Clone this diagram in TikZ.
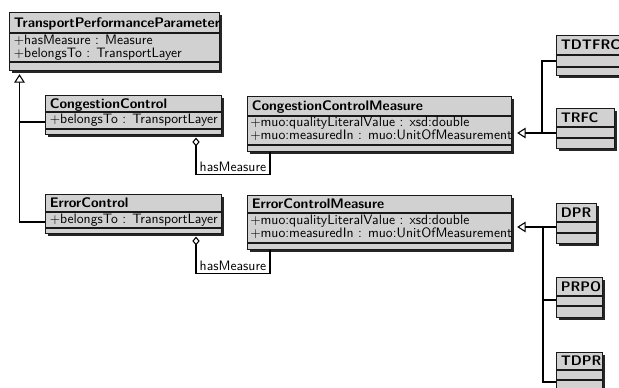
\documentclass[tikz,border=0pt]{standalone}
\usepackage{fontspec}
\usetikzlibrary{arrows.meta,shadows,calc}

% A UML class box: name, left, top, width, title height, attribute height,
% operation height, title text (all lengths in picture units)
\newcommand\umlclass[8]{%
  \node[classbox, anchor=north west,
        minimum width={#4*0.75pt},
        minimum height={(#5+#6+#7)*0.75pt}] (#1) at (#2,#3) {};
  \draw[classrule] (#2,{#3+#5}) -- ++(#4,0);
  \draw[classrule] (#2,{#3+#5+#6}) -- ++(#4,0);
  \node[classtitle] (#1-title) at ({#2+4.5},{#3+#5/2+4.7}) {#8};
}

\begin{document}
\begin{tikzpicture}[x=0.75pt,y=-0.75pt,
  font=\sffamily\fontsize{10.25}{12}\selectfont,
  classbox/.style={draw=black!90, line width=0.85pt, fill=black!18, inner sep=0pt,
    drop shadow={shadow xshift=2pt, shadow yshift=-2pt, fill=black, opacity=0.85}},
  classrule/.style={draw=black!90, line width=0.85pt},
  classtitle/.style={anchor=base west, inner sep=0pt,
    font=\sffamily\bfseries\fontsize{10.4}{12}\selectfont},
  attr/.style={anchor=base west, inner sep=0pt},
  link/.style={draw=black, line width=0.8pt},
  inherit/.style={link, -{Triangle[open, length=6.4pt, width=8pt, fill=white]}},
  aggregate/.style={link, {Diamond[open, length=6.5pt, width=5.5pt, fill=white]}-},
]
\clip (0,0) rectangle (619,388);
\useasboundingbox (0,0) rectangle (619,388);

% --- classes on the left ---
\umlclass{tpp}{9}{12}{210}{21}{29}{8}{TransportPerformanceParameter}
\node[attr] (tpp-a1) at (13.5,44.5) {$+$hasMeasure : Measure};
\node[attr] (tpp-a2) at (13.5,57.2) {$+$belongsTo : TransportLayer};

\umlclass{cc}{45}{95}{176}{17}{17}{5}{CongestionControl}
\node[attr] (cc-a1) at (49.5,124) {$+$belongsTo : TransportLayer};

\umlclass{ec}{45}{194}{176}{18}{16}{5}{ErrorControl}
\node[attr] (ec-a1) at (49.5,223.5) {$+$belongsTo : TransportLayer};

% --- measures ---
\umlclass{ccm}{247}{96}{264}{20}{29}{6}{CongestionControlMeasure}
\node[attr] (ccm-a1) at (250,127) {$+$muo:qualityLiteralValue : xsd:double};
\node[attr] (ccm-a2) at (250,139.7) {$+$muo:measuredIn : muo:UnitOfMeasurement};

\umlclass{ecm}{247}{195}{264}{18}{30}{6}{ErrorControlMeasure}
\node[attr] (ecm-a1) at (250,225) {$+$muo:qualityLiteralValue : xsd:double};
\node[attr] (ecm-a2) at (250,237.7) {$+$muo:measuredIn : muo:UnitOfMeasurement};

% --- concrete measures ---
\umlclass{tdtfrc}{556}{35}{66}{20}{12}{8}{TDTFRC}
\umlclass{trfc}{556}{108}{58}{19}{11}{10}{TRFC}
\umlclass{dpr}{556}{203}{40}{19}{11}{10}{DPR}
\umlclass{prpo}{556}{277}{46}{19}{10}{11}{PRPO}
\umlclass{tdpr}{556}{352}{46}{18}{10}{12}{TDPR}

% --- generalisation to TransportPerformanceParameter ---
\coordinate (tpp-foot) at ($(tpp.south west)+(10.5,3)$);
\coordinate (cc-in) at ($(cc.north west)+(0,27)$);
\coordinate (ec-in) at ($(ec.north west)+(0,28)$);
\draw[inherit] (ec-in) -| (tpp-foot);
\draw[link] (cc-in) -- (cc-in -| tpp-foot);

% --- aggregations ---
\coordinate (cc-agg) at ($(cc.south west)+(151,2.5)$);
\coordinate (ccm-in) at ($(ccm.south west)+(23,0)$);
\draw[aggregate] (cc-agg) -- ++(0,37) -| node[pos=0.25, above, inner sep=2pt] (cc-lbl) {hasMeasure} (ccm-in);

\coordinate (ec-agg) at ($(ec.south west)+(151,2.5)$);
\coordinate (ecm-in) at ($(ecm.south west)+(23,0)$);
\draw[aggregate] (ec-agg) -- ++(0,37) -| node[pos=0.25, above, inner sep=2pt] (ec-lbl) {hasMeasure} (ecm-in);

% --- generalisation to the measures ---
\coordinate (ccm-tip) at ($(ccm.north east)+(5,37)$);
\coordinate (trfc-in) at ($(trfc.north west)+(0,25)$);
\coordinate (tdtfrc-in) at ($(tdtfrc.north west)+(0,26)$);
\draw[inherit] (trfc-in) -- (ccm-tip);
\draw[link] (tdtfrc-in) -| ($(trfc-in)+(-14,0)$);

\coordinate (ecm-tip) at ($(ecm.north east)+(5,32)$);
\coordinate (dpr-in) at ($(dpr.north west)+(0,24)$);
\coordinate (prpo-in) at ($(prpo.north west)+(0,23)$);
\coordinate (tdpr-in) at ($(tdpr.north west)+(0,30)$);
\draw[inherit] (dpr-in) -- (ecm-tip);
\draw[link] (prpo-in) -| ($(dpr-in)+(-13,0)$);
\draw[link] (tdpr-in) -| ($(dpr-in)+(-13,0)$);
\end{tikzpicture}
\end{document}
